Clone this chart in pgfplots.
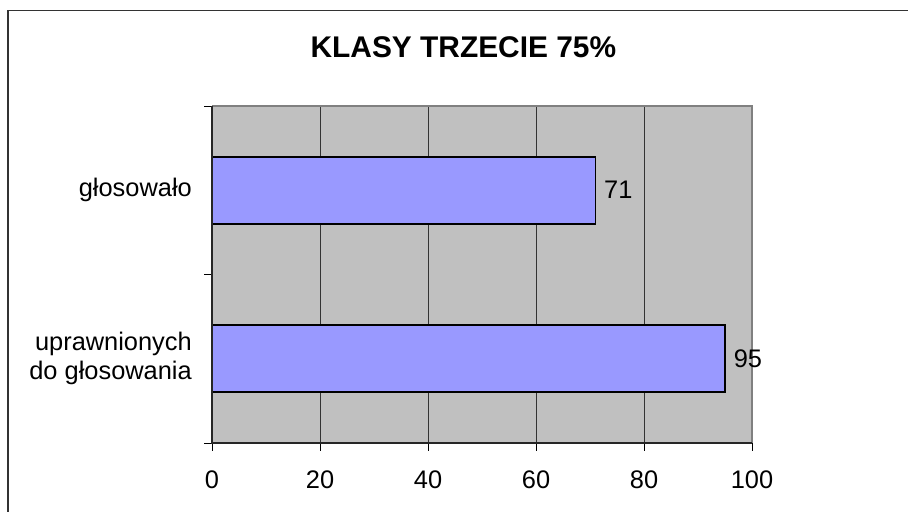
\documentclass[border=0pt]{standalone}
\usepackage{fontspec}
\setmainfont{Liberation Sans}
\usepackage{pgfplots}
\pgfplotsset{compat=1.18}
\definecolor{plotbg}{HTML}{C0C0C0}
\definecolor{barfill}{HTML}{9999FF}
\definecolor{edgegray}{HTML}{808080}
\begin{document}
\begin{tikzpicture}[x=1bp,y=1bp]
\useasboundingbox (0,0) rectangle (908,512);
\draw[line width=1.5bp, color=black!80] (7.8,0) -- (7.8,501.3) -- (908,501.3);
\node[font=\fontsize{30}{36}\selectfont\bfseries, anchor=base, inner sep=0pt] at (463.4,454.7) {KLASY TRZECIE 75\%};
\begin{axis}[
  at={(212bp,69bp)}, anchor=south west,
  width=540bp, height=337bp, scale only axis,
  xmin=0, xmax=100, ymin=0, ymax=2,
  xbar, bar width=67bp,
  xtick={0,20,...,100}, ytick={0,1,2}, yticklabels={},
  extra y ticks={0.5,1.5},
  extra y tick labels={{uprawnionych\\do głosowania},{głosowało}},
  extra y tick style={major tick length=0pt},
  tick align=outside, xtick pos=bottom, ytick pos=left,
  major tick length=8bp,
  tick style={black, line width=0.8bp},
  xmajorgrids, major grid style={black!80, line width=0.8bp},
  axis background/.style={fill=plotbg},
  axis line style={draw=none},
  /pgf/number format/assume math mode=true,
  ticklabel style={font=\fontsize{25.5}{29}\selectfont},
  xticklabel style={inner sep=0pt, yshift=-20bp},
  yticklabel style={align=right, inner sep=0pt, xshift=-20bp},
  nodes near coords,
  nodes near coords align={horizontal},
  every node near coord/.append style={font=\fontsize{25.5}{29}\selectfont, anchor=west, inner sep=0pt, xshift=8bp, /pgf/number format/assume math mode=true},
  clip=false,
]
\addplot[fill=barfill, draw=black, line width=1.6bp] coordinates {(95,0.5) (71,1.5)};
\draw[edgegray, line width=1.8bp] (rel axis cs:0,1) -- (rel axis cs:1,1) -- (rel axis cs:1,0);
\draw[black!85, line width=1.4bp] (rel axis cs:0,1) -- (rel axis cs:0,0) -- (rel axis cs:1,0);
\end{axis}
\end{tikzpicture}
\end{document}
